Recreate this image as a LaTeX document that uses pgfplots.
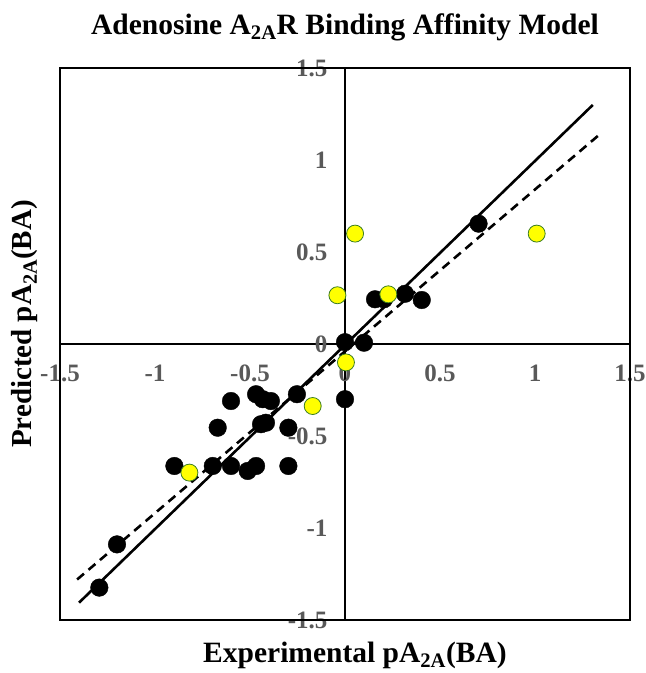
\documentclass[border=0pt]{standalone}
\usepackage{fontspec}
\setmainfont{Liberation Serif}
\usepackage{pgfplots}
\pgfplotsset{compat=1.18}
\definecolor{tickgray}{HTML}{595959}
\definecolor{ptyellow}{HTML}{FFFF00}
\definecolor{ptedge}{HTML}{3A7D22}

\begin{document}
\begin{tikzpicture}
\path[use as bounding box] (-60pt,-53pt) rectangle (586pt,620pt);
\begin{axis}[
  at={(0,0)}, anchor=south west,
  scale only axis, width=570pt, height=552pt,
  xmin=-1.5, xmax=1.5, ymin=-1.5, ymax=1.5,
  axis lines=middle,
  axis line style={-, line width=1.3pt},
  hide obscured x ticks=false, hide obscured y ticks=false,
  major tick length=0pt,
  xtick={-1.5,-1,-0.5,0,0.5,1,1.5},
  xticklabels={-1.5,-1,-0.5,0,0.5,1,1.5},
  ytick={-1.5,-1,-0.5,0,0.5,1,1.5},
  yticklabels={-1.5,-1,-0.5,0,0.5,1,1.5},
  tick label style={font=\fontsize{25}{27}\selectfont\bfseries, text=tickgray},
  xticklabel style={anchor=north, yshift=-17pt},
  yticklabel style={anchor=east, xshift=-14pt},
  title={Adenosine A\textsubscript{2A}R Binding Affinity Model},
  title style={font=\fontsize{29.5}{32}\selectfont\bfseries, at={(0.5,1)}, anchor=center, yshift=35pt},
  xlabel={Experimental pA\textsubscript{2A}(BA)},
  xlabel style={font=\fontsize{29.5}{32}\selectfont\bfseries, at={(0.5,0)}, anchor=center, yshift=-35pt, xshift=10pt},
  ylabel={Predicted pA\textsubscript{2A}(BA)},
  ylabel style={font=\fontsize{29}{32}\selectfont\bfseries, at={(0,0.5)}, anchor=center, rotate=90, yshift=35pt, xshift=20pt},
  clip=false,
]
\draw[line width=1.3pt] (rel axis cs:0,0) rectangle (rel axis cs:1,1);
% trend lines
\addplot[black, line width=2.6pt, no marks] coordinates {(-1.40,-1.406) (1.304,1.299)};
\addplot[black, line width=2.6pt, dash pattern=on 9pt off 6pt, no marks] coordinates {(-1.41,-1.28) (1.347,1.145)};
% training set
\addplot[only marks, mark=*, mark size=8.8pt, black] coordinates {
(-1.293,-1.324) (-1.2,-1.089) (-0.898,-0.663) (-0.696,-0.663) (-0.6,-0.663)
(-0.512,-0.69) (-0.468,-0.663) (-0.298,-0.663) (-0.67,-0.455) (-0.6,-0.31)
(-0.468,-0.273) (-0.433,-0.30) (-0.39,-0.31) (-0.442,-0.436) (-0.416,-0.428)
(-0.298,-0.455) (-0.253,-0.273) (0.0,-0.30) (0.0,0.01) (0.10,0.007)
(0.158,0.243) (0.205,0.243) (0.316,0.273) (0.404,0.239) (0.703,0.654)
};
% test set
\addplot[only marks, mark=*, mark size=8.5pt, draw=ptedge, fill=ptyellow, line width=0.8pt] coordinates {
(-0.819,-0.699) (-0.17,-0.337) (0.005,-0.10) (0.053,0.60)
(-0.04,0.265) (0.228,0.27) (1.009,0.60)
};
\end{axis}
\end{tikzpicture}
\end{document}
